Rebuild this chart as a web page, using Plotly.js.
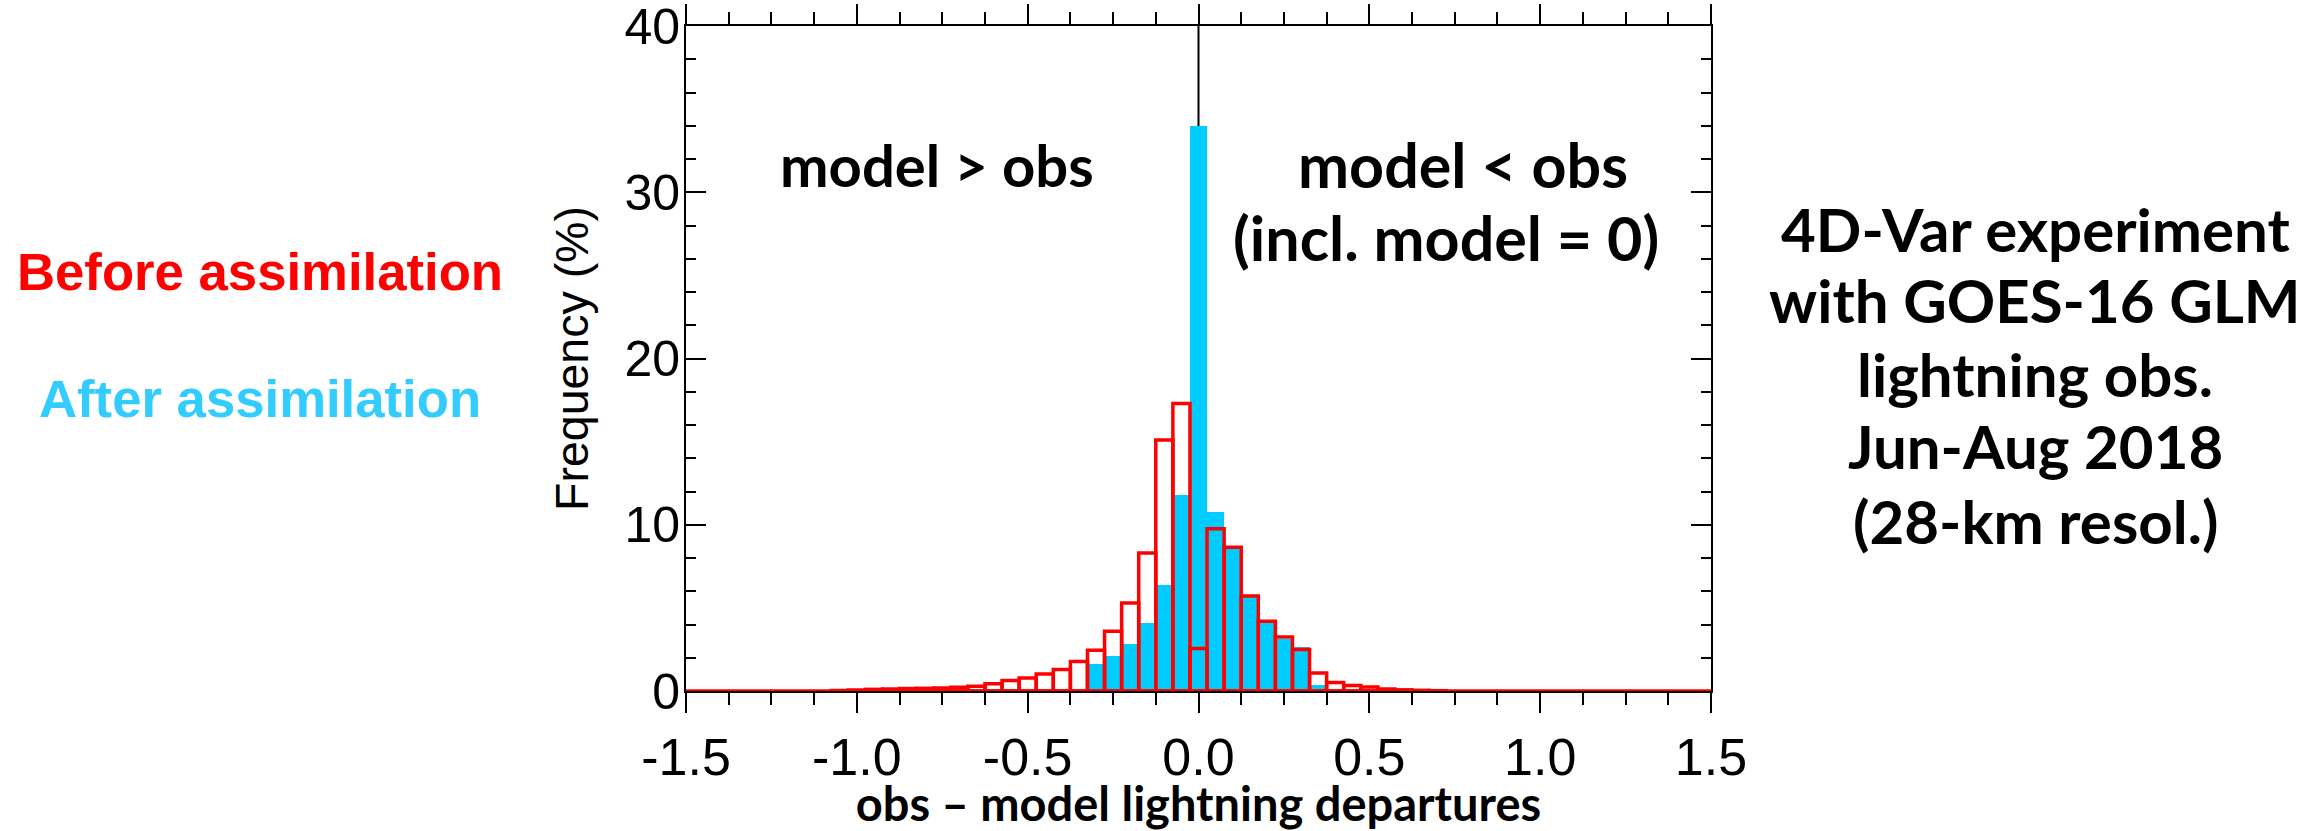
<!DOCTYPE html>
<html>
<head>
<meta charset="utf-8">
<script src="https://cdn.plot.ly/plotly-3.0.1.min.js"></script>
<style>
html,body{margin:0;padding:0;background:#fff;}
#chart{width:2313px;height:831px;}
</style>
</head>
<body>
<div id="chart"></div>
<script>
// Bin centres (obs - model lightning departures), bin width 0.05
const binCenters = [-1.05,-1.00,-0.95,-0.90,-0.85,-0.80,-0.75,-0.70,-0.65,-0.60,-0.55,-0.50,-0.45,-0.40,-0.35,-0.30,-0.25,-0.20,-0.15,-0.10,-0.05,0.00,0.05,0.10,0.15,0.20,0.25,0.30,0.35,0.40,0.45,0.50,0.55,0.60,0.65,0.70];
// Frequency (%) before assimilation (red outline)
const beforeFreq = [0.03,0.06,0.10,0.12,0.15,0.16,0.18,0.22,0.29,0.44,0.63,0.78,1.03,1.30,1.78,2.45,3.59,5.29,8.30,15.1,17.3,2.55,9.76,8.64,5.71,4.19,3.25,2.50,1.09,0.51,0.33,0.24,0.12,0.07,0.04,0.02];
// Frequency (%) after assimilation (blue filled)
const afterFreq  = [0,0,0,0,0,0,0,0,0,0,0,0,0,0,0.06,1.64,2.10,2.85,4.11,6.40,11.8,34.0,10.74,8.70,5.66,4.07,3.12,2.65,0.38,0,0,0,0,0,0,0];
const binWidth = 0.05;

const xTickVals = [-1.5,-1.0,-0.5,0.0,0.5,1.0,1.5];
const xTickLabels = ['-1.5','-1.0','-0.5','0.0','0.5','1.0','1.5'];
const yTickVals = [0,10,20,30,40];
const yTickLabels = ['0','10','20','30','40'];

const rightText = ['4D-Var experiment','with GOES-16 GLM','lightning obs.','Jun-Aug 2018','(28-km resol.)'];

// plot area in pixels
const PL = 686, PR = 1711, PT = 26, PB = 691;
const W = 2313, H = 831;
function px2paperX(px){ return (px - PL) / (PR - PL); }
function px2paperY(py){ return (PB - py) / (PB - PT); }

const traces = [
  {
    type:'bar', x: binCenters, y: afterFreq, width: binCenters.map(()=>binWidth),
    marker:{color:'#00CCFF', line:{width:0}}, name:'After assimilation', hoverinfo:'x+y'
  },
  {
    type:'bar', x: binCenters, y: beforeFreq, width: binCenters.map(()=>binWidth),
    marker:{color:'rgba(0,0,0,0)', line:{color:'#FF0000', width:3.5}}, name:'Before assimilation', hoverinfo:'x+y'
  }
];

const boldFont = 'Lato, "Open Sans", sans-serif';
const rightLineY = [229, 300, 374, 446, 521];
const annotations = [
  {text:'model > obs', xref:'paper', yref:'paper', x:px2paperX(937), y:px2paperY(164), showarrow:false,
   font:{family:boldFont, size:58, color:'#000', weight:700}, xanchor:'center', yanchor:'middle'},
  {text:'model < obs', xref:'paper', yref:'paper', x:px2paperX(1463), y:px2paperY(164), showarrow:false,
   font:{family:boldFont, size:61, color:'#000', weight:700}, xanchor:'center', yanchor:'middle'},
  {text:'(incl. model = 0)', xref:'paper', yref:'paper', x:px2paperX(1446), y:px2paperY(238), showarrow:false,
   font:{family:boldFont, size:61, color:'#000', weight:700}, xanchor:'center', yanchor:'middle'},
  {text:'Before assimilation', xref:'paper', yref:'paper', x:px2paperX(260), y:px2paperY(271), showarrow:false,
   font:{family:'"Liberation Sans", Arial, sans-serif', size:52.7, color:'#FF0000', weight:700}, xanchor:'center', yanchor:'middle'},
  {text:'After assimilation', xref:'paper', yref:'paper', x:px2paperX(260), y:px2paperY(399), showarrow:false,
   font:{family:'"Liberation Sans", Arial, sans-serif', size:52.7, color:'#33CCFF', weight:700}, xanchor:'center', yanchor:'middle'}
];
rightText.forEach((t,i)=>{
  annotations.push({text:t, xref:'paper', yref:'paper', x:px2paperX(2035), y:px2paperY(rightLineY[i]), showarrow:false,
    font:{family:boldFont, size:60, color:'#000', weight:700}, xanchor:'center', yanchor:'middle'});
});

const layout = {
  width: W, height: H,
  margin:{l:PL, r:W-PR, t:PT, b:H-PB, pad:0},
  paper_bgcolor:'#fff', plot_bgcolor:'#fff',
  showlegend:false,
  barmode:'overlay', bargap:0,
  font:{family:'"Liberation Sans", Arial, sans-serif', color:'#000'},
  xaxis:{
    range:[-1.5,1.5], tickmode:'array', tickvals:xTickVals, ticktext:xTickLabels,
    ticks:'outside', ticklen:20, tickwidth:2, tickcolor:'#000',
    showline:true, linewidth:2, linecolor:'#000', mirror:'ticks',
    showgrid:false, zeroline:false,
    tickfont:{family:'"Liberation Sans", Arial, sans-serif', size:52},
    ticklabelstandoff: 0, ticklabeloverflow:'allow',
    minor:{tickmode:'linear', tick0:0, dtick:0.125, ticks:'outside', ticklen:12, tickwidth:2, tickcolor:'#000', showgrid:false},
    title:{text:'obs – model lightning departures', font:{family:boldFont, size:47, weight:700}, standoff:3},
    automargin:false, fixedrange:true
  },
  yaxis:{
    range:[0,40], tickmode:'array', tickvals:yTickVals, ticktext:yTickLabels,
    ticks:'inside', ticklen:20, tickwidth:2, tickcolor:'#000',
    showline:true, linewidth:2, linecolor:'#000', mirror:'ticks',
    showgrid:false, zeroline:false,
    tickfont:{family:'"Liberation Sans", Arial, sans-serif', size:50},
    ticklabelstandoff: -6, ticklabeloverflow:'allow',
    minor:{tickmode:'linear', tick0:0, dtick:2, ticks:'inside', ticklen:10, tickwidth:2, tickcolor:'#000', showgrid:false},
    title:{text:'Frequency (%)', font:{family:'"Liberation Sans", Arial, sans-serif', size:46.5}, standoff:21},
    automargin:false, fixedrange:true
  },
  shapes:[
    {type:'line', xref:'x', yref:'paper', x0:0, x1:0, y0:0, y1:1, line:{color:'#000', width:2}, layer:'below'},
    {type:'line', xref:'paper', yref:'y', x0:0, x1:1, y0:0, y1:0, line:{color:'#FF0000', width:3.5}, layer:'above'}
  ],
  annotations: annotations
};

Plotly.newPlot('chart', traces, layout, {staticPlot:true, displayModeBar:false});
</script>
</body>
</html>
